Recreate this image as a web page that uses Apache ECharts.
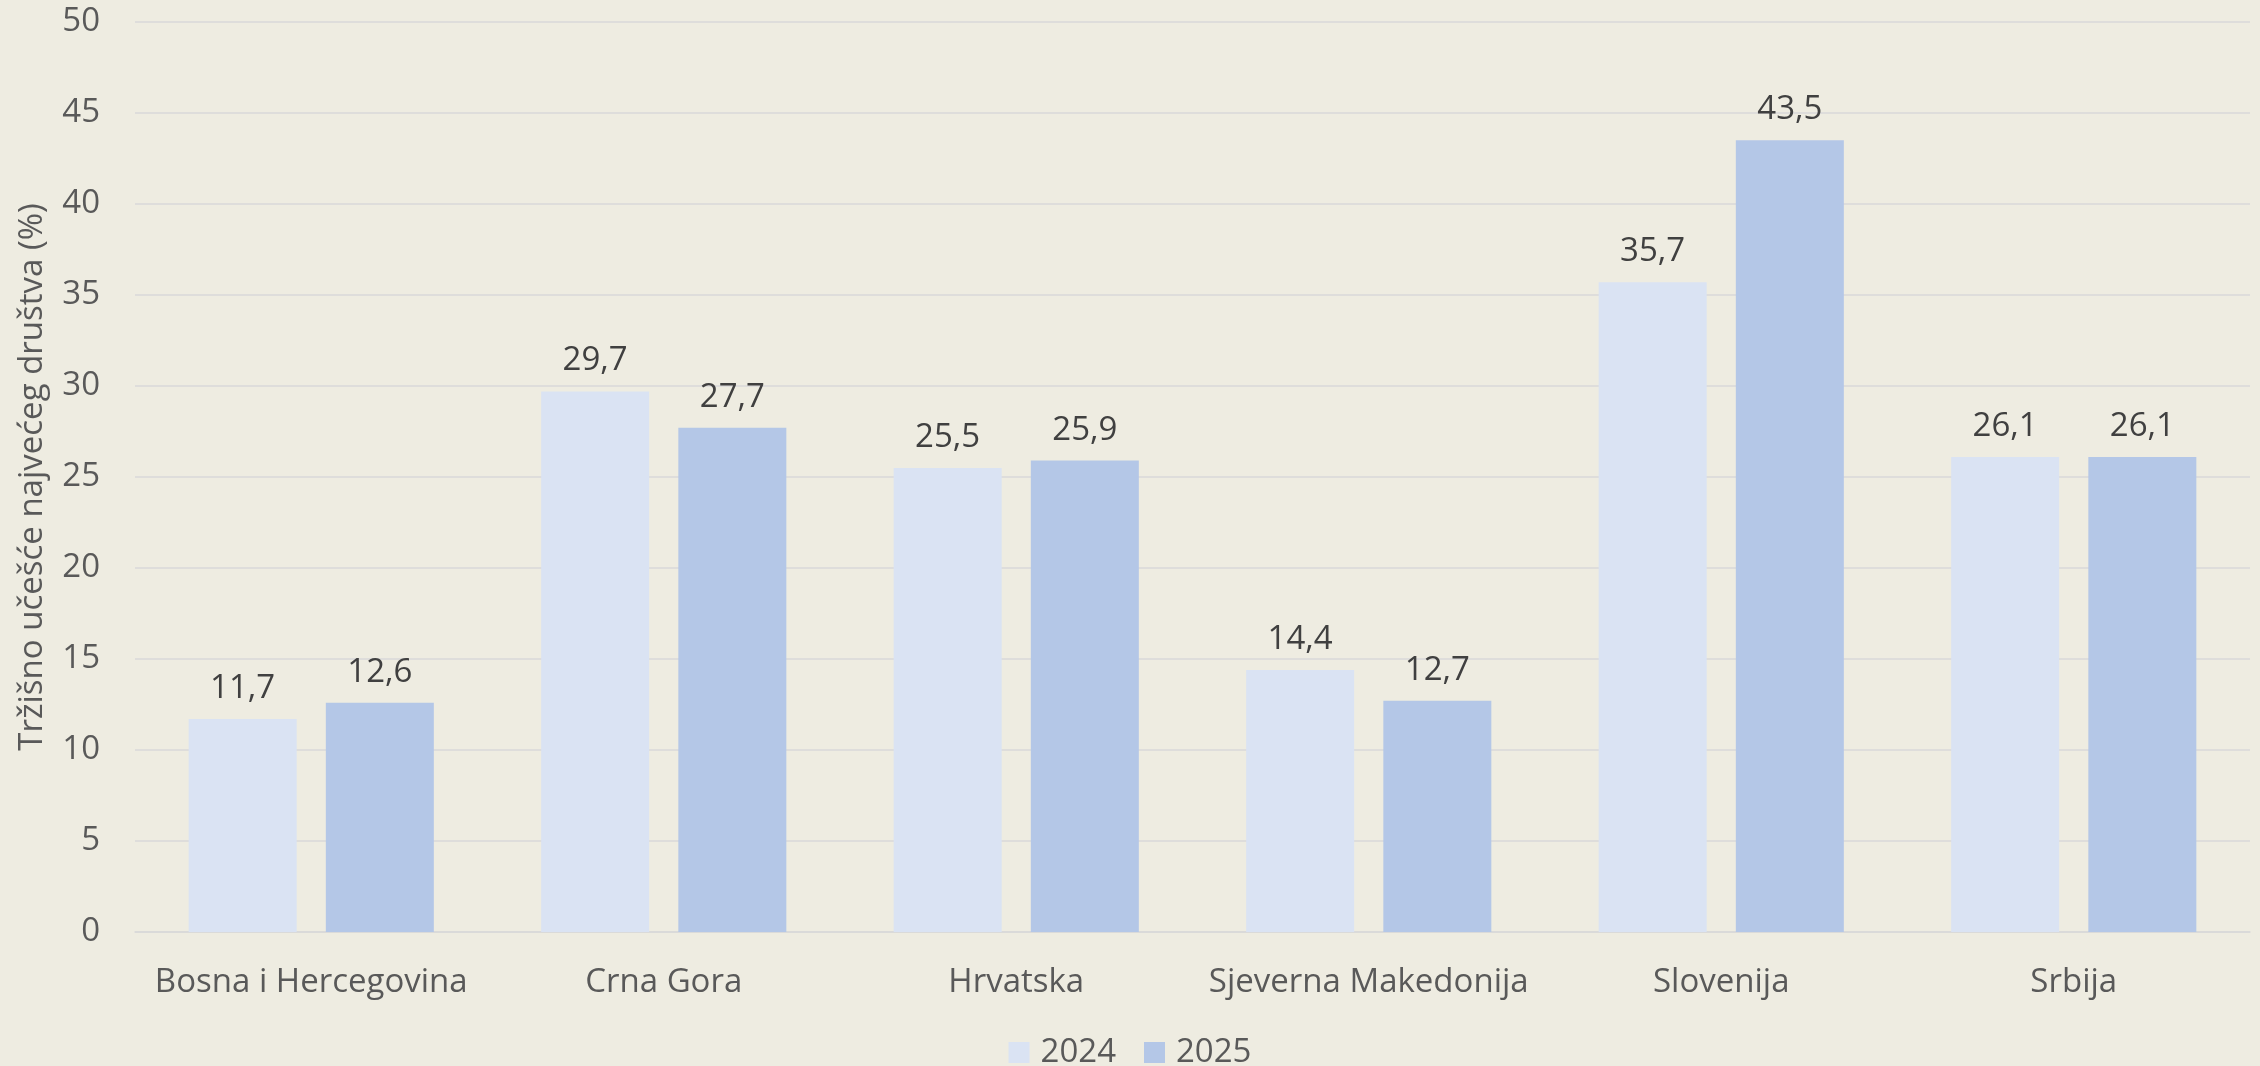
<!DOCTYPE html>
<html>
<head>
<meta charset="utf-8">
<script src="https://cdn.jsdelivr.net/npm/echarts@6/dist/echarts.min.js"></script>
<style>
  html, body { margin: 0; padding: 0; background: #EEECE1; }
  #chart { width: 2260px; height: 1066px; }
</style>
</head>
<body>
<div id="chart"></div>
<script>
const countries = ['Bosna i Hercegovina', 'Crna Gora', 'Hrvatska', 'Sjeverna Makedonija', 'Slovenija', 'Srbija'];
const values2024 = [11.7, 29.7, 25.5, 14.4, 35.7, 26.1];
const values2025 = [12.6, 27.7, 25.9, 12.7, 43.5, 26.1];
const yTitle = 'Tržišno učešće najvećeg društva (%)';

const font = '"Open Sans", sans-serif';
const fmt = p => p.value.toFixed(1).replace('.', ',');

const myChart = echarts.init(document.getElementById('chart'));
myChart.setOption({
  backgroundColor: '#EEECE1',
  animation: false,
  grid: { left: 135, right: 10, top: 22, bottom: 134 },
  legend: {
    bottom: -8,
    left: 'center',
    itemWidth: 21,
    itemHeight: 21,
    itemGap: 28,
    icon: 'rect',
    textStyle: { fontFamily: font, fontSize: 33, color: '#595959', padding: [0, 0, 0, 6] },
    data: ['2024', '2025']
  },
  xAxis: {
    type: 'category',
    data: countries,
    axisTick: { show: false },
    axisLine: { lineStyle: { color: '#D9D9D9', width: 1.5 } },
    axisLabel: { fontFamily: font, fontSize: 33, color: '#595959', margin: 34, interval: 0 }
  },
  yAxis: {
    type: 'value',
    min: 0,
    max: 50,
    interval: 5,
    name: yTitle,
    nameLocation: 'middle',
    nameGap: 86,
    nameTextStyle: { fontFamily: font, fontSize: 33, color: '#595959' },
    axisLabel: { fontFamily: font, fontSize: 33, color: '#595959', margin: 35 },
    splitLine: { lineStyle: { color: '#D9D9D9', width: 1.5 } }
  },
  series: [
    {
      name: '2024',
      type: 'bar',
      data: values2024,
      barWidth: 108,
      barGap: '27%',
      itemStyle: { color: '#DAE3F3' },
      label: { show: true, position: 'top', distance: 14, formatter: fmt,
               fontFamily: font, fontSize: 33, color: '#404040' }
    },
    {
      name: '2025',
      type: 'bar',
      data: values2025,
      barWidth: 108,
      barGap: '27%',
      itemStyle: { color: '#B4C7E7' },
      label: { show: true, position: 'top', distance: 14, formatter: fmt,
               fontFamily: font, fontSize: 33, color: '#404040' }
    }
  ]
});
</script>
</body>
</html>
